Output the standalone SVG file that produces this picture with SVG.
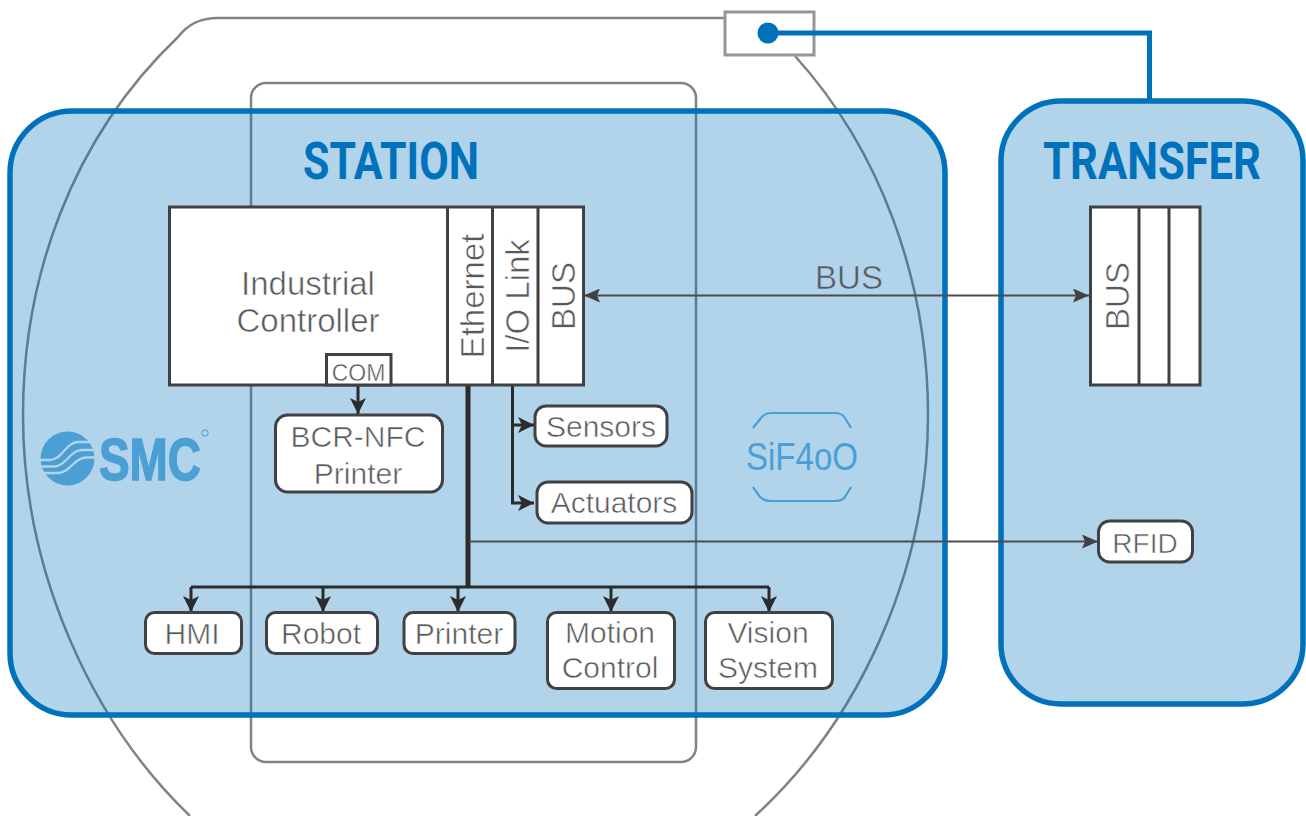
<svg xmlns="http://www.w3.org/2000/svg" width="1306" height="816" viewBox="0 0 1306 816">
<style>
.t{font-family:"Liberation Sans",Arial,sans-serif;fill:#58595b;text-anchor:middle;font-size:30px;stroke:#fff;stroke-width:.55px}
.o{stroke:#b2d5ea}
.lg{font-size:33px}
.h{font-family:"Roboto","Liberation Sans",sans-serif;font-weight:700;fill:#0072bc;text-anchor:middle;font-size:51px}
.n{fill:#fff;stroke:#414042;stroke-width:3}
.g{fill:none;stroke:#808285;stroke-width:2.5}
.zone{fill:#0072bc;fill-opacity:.305;stroke:none}
.zb{fill:none;stroke:#0072bc;stroke-width:5.5}
.c{fill:none;stroke:#2b2b2b;stroke-width:3}
.d{fill:none;stroke:#4d4d4f;stroke-width:2.2}
.l{fill:#4b9fd5}
</style>
<defs>
<marker id="a" markerUnits="userSpaceOnUse" markerWidth="18" markerHeight="16" refX="16" refY="8" orient="auto"><path d="M0 0L16 8L0 16L4 8Z" fill="#2b2b2b"/></marker>
<marker id="b" markerUnits="userSpaceOnUse" markerWidth="18" markerHeight="14" refX="16" refY="7" orient="auto-start-reverse"><path d="M0 0L16 7L0 14L3 7Z" fill="#414042"/></marker>
</defs>
<g id="outline">
<path class="g" d="M724 18H218C200 18 188 24 178 37C70 140 23 280 23 415C23 570 90 720 190 816"/>
<path class="g" d="M795 56C880 150 928 280 928 415C928 570 860 720 755 816"/>
<rect class="g" x="251" y="83" width="445" height="679" rx="15"/>
</g>
<g id="station-zone">
<rect class="zone" x="10" y="111" width="935" height="604" rx="62"/>
<rect class="zb" x="10" y="111" width="935" height="604" rx="62"/>
<text class="h" x="391" y="179" textLength="176" lengthAdjust="spacingAndGlyphs">STATION</text>
</g>
<g id="transfer-zone">
<rect class="zone" x="1001" y="101" width="302" height="603" rx="60"/>
<rect class="zb" x="1001" y="101" width="302" height="603" rx="60"/>
<text class="h" x="1152" y="179" textLength="218" lengthAdjust="spacingAndGlyphs">TRANSFER</text>
</g>
<g id="connector-box">
<rect x="725" y="12" width="89" height="43" fill="#fff" stroke="#939598" stroke-width="3"/>
</g>
<g id="connectors">
<path d="M768 33H1149.500V101" fill="none" stroke="#0072bc" stroke-width="5"/>
<circle cx="768" cy="33" r="10.500" fill="#0072bc"/>
<path class="c" d="M358 385V414" marker-end="url(#a)"/>
<path class="c" style="stroke-width:5" d="M468 385V587"/>
<path class="c" d="M191 587H769"/>
<path class="c" d="M191 587V612" marker-end="url(#a)"/>
<path class="c" d="M323 587V612" marker-end="url(#a)"/>
<path class="c" d="M458 587V612" marker-end="url(#a)"/>
<path class="c" d="M611 587V612" marker-end="url(#a)"/>
<path class="c" d="M769 587V612" marker-end="url(#a)"/>
<path class="c" d="M512.500 385V503H534" marker-end="url(#a)"/>
<path class="c" d="M512.500 425H534" marker-end="url(#a)"/>
<path class="d" d="M469 541.500H1098" marker-end="url(#b)"/>
<path class="d" d="M584 295.500H1089" marker-start="url(#b)" marker-end="url(#b)"/>
<text class="t lg o" x="849" y="289">BUS</text>
</g>
<g id="controller">
<rect class="n" x="169.500" y="207" width="414" height="178"/>
<path class="n" d="M447.500 207V385M492.500 207V385M538 207V385"/>
<text class="t lg" x="308" y="295">Industrial</text>
<text class="t lg" x="308" y="332">Controller</text>
<text class="t lg" transform="translate(484 296) rotate(-90)">Ethernet</text>
<text class="t lg" transform="translate(529 296) rotate(-90)">I/O Link</text>
<text class="t lg" transform="translate(575 296) rotate(-90)">BUS</text>
</g>
<g id="com">
<rect class="n" x="326.500" y="354.500" width="64.500" height="30.500"/>
<text class="t" x="358.500" y="381" style="font-size:23px;stroke-width:.4px">COM</text>
</g>
<g id="transfer-bus">
<rect class="n" x="1090.500" y="207" width="109.500" height="178"/>
<path class="n" d="M1139 207V385M1169 207V385"/>
<text class="t lg" transform="translate(1129 296) rotate(-90)">BUS</text>
</g>
<g id="bcr"><rect class="n" x="275.500" y="415" width="167" height="77" rx="12"/><text class="t" x="358" y="447">BCR-NFC</text><text class="t" x="358" y="484">Printer</text></g>
<g id="sensors"><rect class="n" x="535" y="406" width="132" height="40" rx="11"/><text class="t" x="601" y="437">Sensors</text></g>
<g id="actuators"><rect class="n" x="537" y="482" width="155" height="41" rx="11"/><text class="t" x="614" y="513">Actuators</text></g>
<g id="rfid"><rect class="n" x="1098.500" y="521" width="94" height="41" rx="11"/><text class="t" x="1145" y="553" style="font-size:28px">RFID</text></g>
<g id="hmi"><rect class="n" x="145.500" y="612.500" width="96" height="41" rx="9"/><text class="t" x="192" y="644">HMI</text></g>
<g id="robot"><rect class="n" x="266.500" y="612.500" width="111" height="41" rx="9"/><text class="t" x="321" y="644">Robot</text></g>
<g id="printer"><rect class="n" x="404" y="612.500" width="111" height="41" rx="9"/><text class="t" x="459" y="644">Printer</text></g>
<g id="motion"><rect class="n" x="547.500" y="612.500" width="127" height="76" rx="9"/><text class="t" x="610" y="643">Motion</text><text class="t" x="610" y="678">Control</text></g>
<g id="vision"><rect class="n" x="705.500" y="612.500" width="127" height="76" rx="9"/><text class="t" x="768" y="643">Vision</text><text class="t" x="768" y="678">System</text></g>
<g id="smc-logo">
<circle class="l" cx="67.500" cy="458.500" r="27"/>
<path d="M39 460H50C62 460 66 442 78 442H97M39 466.500H54C66 466.500 70 450 82 450H97M39 473H58C70 473 74 457.500 86 457.500H97" fill="none" stroke="#b2d5ea" stroke-width="2.300"/>
<text x="150" y="479.500" text-anchor="middle" textLength="102" lengthAdjust="spacingAndGlyphs" style="font-family:'Liberation Sans',sans-serif;font-weight:700;font-size:60px;fill:#4b9fd5;stroke:#4b9fd5;stroke-width:1.500px">SMC</text>
<circle cx="205" cy="433" r="3.200" fill="none" stroke="#4b9fd5"/>
</g>
<g id="sif-logo">
<path d="M753 428L761 418Q765 413 772 413H835Q842 413 845 418L851 428M753 487L760 497Q764 501 771 501H835Q842 501 845 497L851 487" fill="none" stroke="#4b9fd5" stroke-width="2.200"/>
<text x="802" y="470" text-anchor="middle" textLength="112" lengthAdjust="spacingAndGlyphs" style="font-family:'Liberation Sans',sans-serif;font-size:38px;fill:#4b9fd5">SiF4oO</text>
</g>
</svg>
